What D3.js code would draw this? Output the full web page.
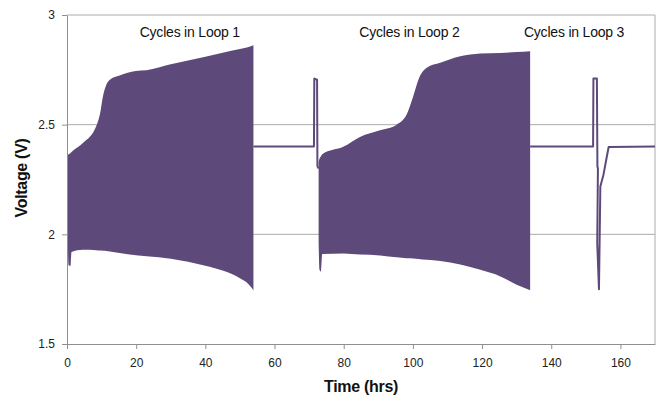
<!DOCTYPE html>
<html>
<head>
<meta charset="utf-8">
<script src="https://cdn.jsdelivr.net/npm/d3@7"></script>
<style>
  body { margin: 0; background: #fff; }
  svg { display: block; font-family: "Liberation Sans", Arial, sans-serif; }
</style>
</head>
<body>
<svg id="chart" width="657" height="397"></svg>
<script>
// axis ticks
const xTicks = [0, 20, 40, 60, 80, 100, 120, 140, 160];
const yTicks = [1.5, 2, 2.5, 3];

// cycling envelopes (hrs, V)
const loop1Time  = [0.25, 0.45, 1.0, 1.3, 4.6, 8.5, 9.5, 10.4, 11.4, 12.4, 15.2, 19.9, 23, 30, 40, 45, 50, 52, 53.9];
const loop1Upper = [2.36, 2.365, 2.37, 2.375, 2.416, 2.495, 2.546, 2.63, 2.683, 2.705, 2.724, 2.745, 2.748, 2.775, 2.81, 2.828, 2.845, 2.852, 2.862];
const loop1Lower = [1.95, 1.86, 1.855, 1.92, 1.93, 1.928, 1.926, 1.925, 1.924, 1.922, 1.915, 1.905, 1.9, 1.889, 1.857, 1.835, 1.8, 1.78, 1.745];

const loop2Time  = [72.75, 73.0, 73.4, 73.8, 80, 84.7, 90.5, 95.3, 98.2, 100.1, 101.6, 104, 107.9, 113.7, 119.5, 125.3, 130, 133.9];
const loop2Upper = [2.33, 2.345, 2.355, 2.365, 2.4, 2.444, 2.474, 2.5, 2.546, 2.63, 2.705, 2.759, 2.782, 2.812, 2.824, 2.827, 2.831, 2.835];
const loop2Lower = [1.96, 1.84, 1.83, 1.91, 1.913, 1.908, 1.904, 1.895, 1.891, 1.89, 1.888, 1.884, 1.878, 1.862, 1.838, 1.808, 1.77, 1.745];

// rest / pulse segments
const rest1Time = [53.9, 71.4, 71.5, 72.3, 72.4, 72.75];
const rest1Volt = [2.4, 2.4, 2.71, 2.705, 2.31, 2.3];
const rest2Time = [133.9, 152.1, 152.2, 153.2, 153.35, 153.5, 153.3, 153.8, 154.2, 155.1, 155.9, 156.6, 170];
const rest2Volt = [2.4, 2.4, 2.71, 2.71, 2.31, 2.3, 1.96, 1.75, 2.218, 2.272, 2.34, 2.398, 2.4];

const loopLabels = ['Cycles in Loop 1', 'Cycles in Loop 2', 'Cycles in Loop 3'];
const loopLabelTime = [35.5, 99, 146.6];

const purple = '#5e4a7a';
const margin = {top: 15, right: 2, bottom: 53, left: 67};
const width = 657 - margin.left - margin.right;
const height = 397 - margin.top - margin.bottom;

const svg = d3.select('#chart');
const g = svg.append('g').attr('transform', `translate(${margin.left},${margin.top})`);

const x = d3.scaleLinear().domain([0, 170]).range([0, width]);
const y = d3.scaleLinear().domain([1.5, 3]).range([height, 0]);

// gridlines
g.selectAll('.grid')
  .data(yTicks.filter(d => d > 1.5))
  .enter().append('line')
  .attr('x1', 0).attr('x2', width)
  .attr('y1', d => y(d)).attr('y2', d => y(d))
  .attr('stroke', '#ababab').attr('stroke-width', 1);

// right border
g.append('line')
  .attr('x1', width).attr('x2', width)
  .attr('y1', 0).attr('y2', height)
  .attr('stroke', '#ababab');

const zip = (ts, a, b) => ts.map((t, i) => ({t: t, hi: a[i], lo: b[i]}));

const area = d3.area()
  .x(d => x(d.t))
  .y0(d => y(d.lo))
  .y1(d => y(d.hi))
  .curve(d3.curveMonotoneX);

[zip(loop1Time, loop1Upper, loop1Lower), zip(loop2Time, loop2Upper, loop2Lower)].forEach(pts => {
  g.append('path').attr('d', area(pts)).attr('fill', purple);
});

const line = d3.line().x(d => x(d[0])).y(d => y(d[1]));

[[rest1Time, rest1Volt], [rest2Time, rest2Volt]].forEach(([ts, vs]) => {
  g.append('path')
    .attr('d', line(ts.map((t, i) => [t, vs[i]])))
    .attr('fill', 'none')
    .attr('stroke', purple)
    .attr('stroke-width', 2)
    .attr('stroke-linejoin', 'round');
});

// axes
const xAxis = g.append('g')
  .attr('transform', `translate(0,${height})`)
  .call(d3.axisBottom(x).tickValues(xTicks).tickSize(5).tickPadding(9).tickSizeOuter(0));
const yAxis = g.append('g')
  .call(d3.axisLeft(y).tickValues(yTicks).tickFormat(d3.format('')).tickSize(5).tickPadding(7).tickSizeOuter(0));

[xAxis, yAxis].forEach(ax => {
  ax.select('.domain').attr('stroke', '#8f8f8f');
  ax.selectAll('.tick line').attr('stroke', '#8f8f8f');
  ax.selectAll('.tick text')
    .attr('font-size', 12)
    .attr('font-family', '"Liberation Sans", Arial, sans-serif')
    .attr('fill', '#222');
});

// loop labels
g.selectAll('.loop-label')
  .data(loopLabels)
  .enter().append('text')
  .attr('x', (d, i) => x(loopLabelTime[i]))
  .attr('y', 22)
  .attr('text-anchor', 'middle')
  .attr('font-size', 14)
  .attr('letter-spacing', -0.2)
  .attr('fill', '#111')
  .text(d => d);

// axis titles
svg.append('text')
  .attr('x', 361).attr('y', 392)
  .attr('text-anchor', 'middle')
  .attr('font-size', 16).attr('font-weight', 'bold')
  .attr('letter-spacing', -0.3)
  .attr('fill', '#111')
  .text('Time (hrs)');

svg.append('text')
  .attr('transform', 'translate(27,178) rotate(-90)')
  .attr('text-anchor', 'middle')
  .attr('font-size', 16).attr('font-weight', 'bold')
  .attr('letter-spacing', -0.3)
  .attr('fill', '#111')
  .text('Voltage (V)');
</script>
</body>
</html>
